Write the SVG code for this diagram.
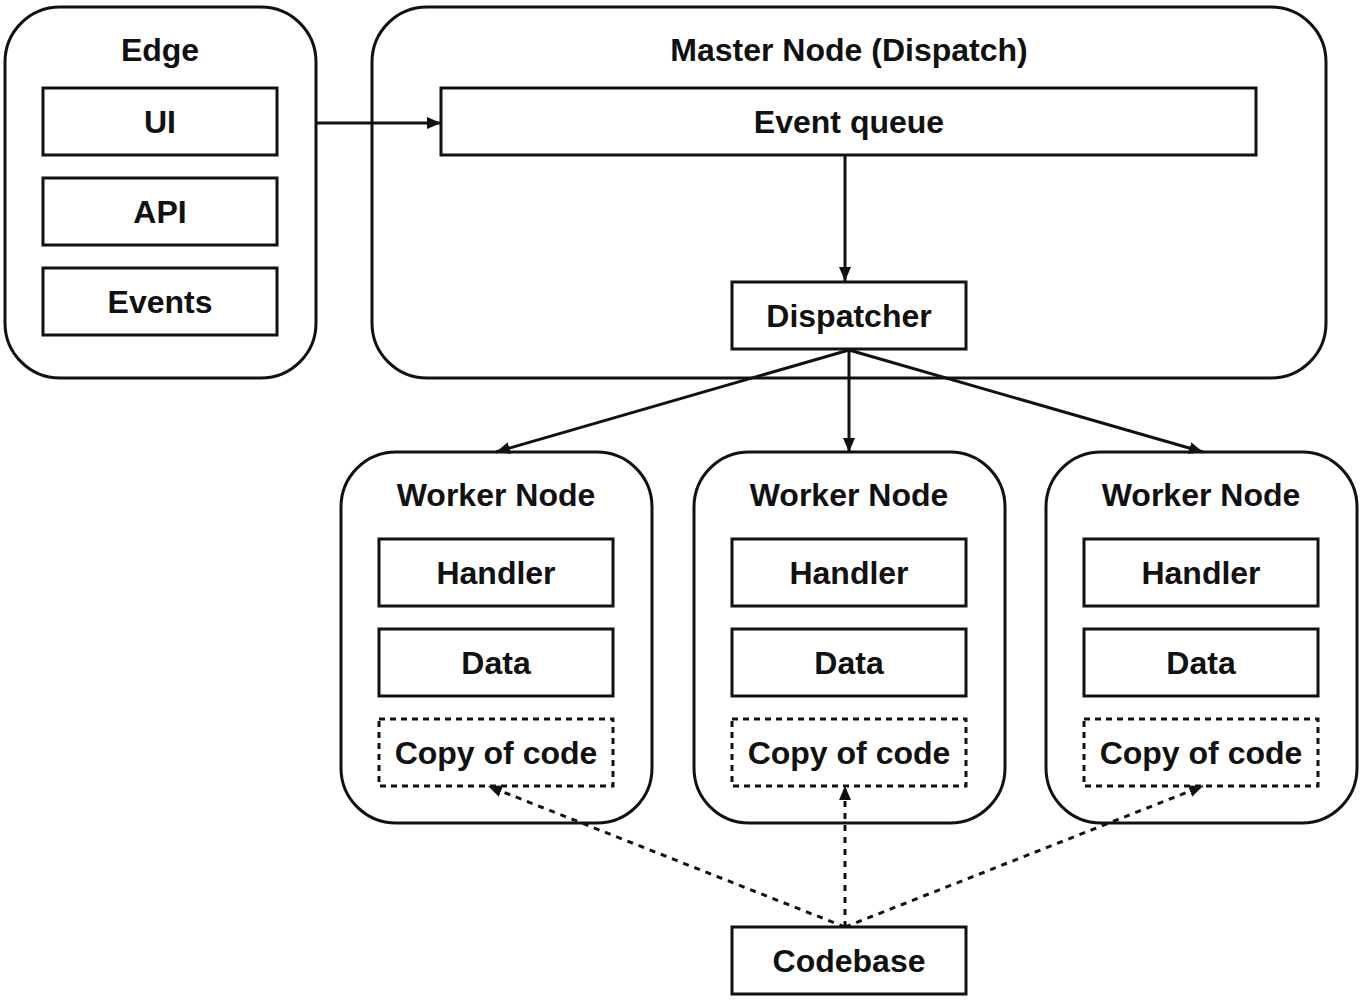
<svg xmlns="http://www.w3.org/2000/svg" width="1362" height="1000" viewBox="0 0 1362 1000">
<style>
.c{fill:#fff;stroke:#111;stroke-width:3}
.b{fill:#fff;stroke:#111;stroke-width:3}
.d{fill:#fff;stroke:#111;stroke-width:3;stroke-dasharray:6 5}
text{font-family:"Liberation Sans",Arial,sans-serif;font-weight:bold;font-size:32px;fill:#111;text-anchor:middle}
.l{stroke:#111;stroke-width:3;fill:none}
.ld{stroke:#111;stroke-width:3;fill:none;stroke-dasharray:6 6}
</style>
<defs>
<marker id="a" viewBox="0 0 14 12" refX="14" refY="6" markerWidth="14" markerHeight="12" markerUnits="userSpaceOnUse" orient="auto">
<path d="M0,0 L14,6 L0,12 z" fill="#111"/>
</marker>
</defs>
<rect width="1362" height="1000" fill="#fff"/>
<g id="edge">
<rect class="c" x="5" y="7" width="311" height="371" rx="55"/>
<text x="160" y="61">Edge</text>
<g id="ui"><rect class="b" x="43" y="88" width="234" height="67"/><text x="160" y="133">UI</text></g>
<g id="api"><rect class="b" x="43" y="178" width="234" height="67"/><text x="160" y="223">API</text></g>
<g id="events"><rect class="b" x="43" y="268" width="234" height="67"/><text x="160" y="313">Events</text></g>
</g>
<g id="master">
<rect class="c" x="372" y="7" width="954" height="371" rx="55"/>
<text x="849" y="61">Master Node (Dispatch)</text>
<g id="eventqueue"><rect class="b" x="441" y="88" width="815" height="67"/><text x="849" y="133">Event queue</text></g>
</g>
<g id="worker1">
<rect class="c" x="341" y="452" width="311" height="371" rx="55"/>
<text x="496" y="506">Worker Node</text>
<rect class="b" x="379" y="539" width="234" height="67"/><text x="496" y="584">Handler</text>
<rect class="b" x="379" y="629" width="234" height="67"/><text x="496" y="674">Data</text>
<rect class="d" x="379" y="719" width="234" height="67"/><text x="496" y="764">Copy of code</text>
</g>
<g id="worker2">
<rect class="c" x="694" y="452" width="311" height="371" rx="55"/>
<text x="849" y="506">Worker Node</text>
<rect class="b" x="732" y="539" width="234" height="67"/><text x="849" y="584">Handler</text>
<rect class="b" x="732" y="629" width="234" height="67"/><text x="849" y="674">Data</text>
<rect class="d" x="732" y="719" width="234" height="67"/><text x="849" y="764">Copy of code</text>
</g>
<g id="worker3">
<rect class="c" x="1046" y="452" width="311" height="371" rx="55"/>
<text x="1201" y="506">Worker Node</text>
<rect class="b" x="1084" y="539" width="234" height="67"/><text x="1201" y="584">Handler</text>
<rect class="b" x="1084" y="629" width="234" height="67"/><text x="1201" y="674">Data</text>
<rect class="d" x="1084" y="719" width="234" height="67"/><text x="1201" y="764">Copy of code</text>
</g>
<g id="connectors">
<line class="l" x1="316" y1="123" x2="441" y2="123" marker-end="url(#a)"/>
<line class="l" x1="845" y1="155" x2="845" y2="281" marker-end="url(#a)"/>
<line class="l" x1="849" y1="350" x2="496" y2="452" marker-end="url(#a)"/>
<line class="l" x1="849" y1="350" x2="849" y2="452" marker-end="url(#a)"/>
<line class="l" x1="849" y1="350" x2="1203" y2="452" marker-end="url(#a)"/>
<line class="ld" x1="845" y1="927" x2="488" y2="786" marker-end="url(#a)"/>
<line class="ld" x1="845" y1="927" x2="845" y2="786" marker-end="url(#a)"/>
<line class="ld" x1="845" y1="927" x2="1203" y2="786" marker-end="url(#a)"/>
</g>
<g id="dispatcher"><rect class="b" x="732" y="282" width="234" height="67"/><text x="849" y="327">Dispatcher</text></g>
<g id="codebase"><rect class="b" x="732" y="927" width="234" height="67"/><text x="849" y="972">Codebase</text></g>
</svg>
